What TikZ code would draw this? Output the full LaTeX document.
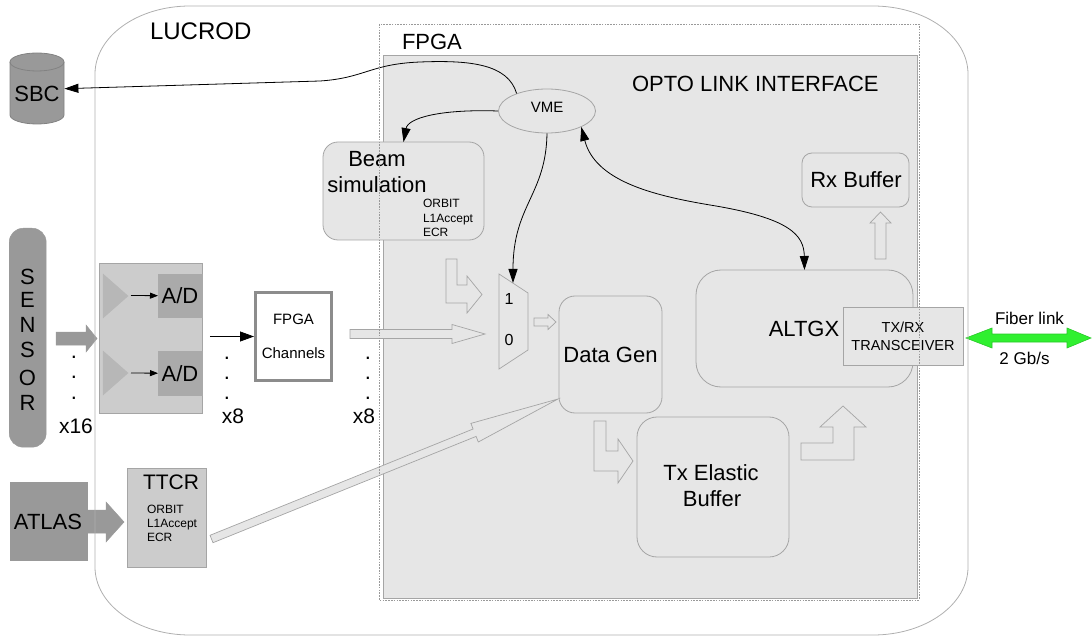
\documentclass[tikz,border=0pt]{standalone}
\usepackage{fontspec}
\setmainfont{Liberation Sans}
\usetikzlibrary{arrows.meta,shapes.geometric}

\definecolor{panelfill}{RGB}{230,230,230}
\definecolor{edgegray}{RGB}{165,165,165}
\definecolor{shellgray}{RGB}{175,175,175}
\definecolor{darkfill}{RGB}{153,153,153}
\definecolor{darkedge}{RGB}{130,130,130}
\definecolor{midfill}{RGB}{204,204,204}
\definecolor{adfill}{RGB}{170,170,170}
\definecolor{ampfill}{RGB}{183,183,183}
\definecolor{chanedge}{RGB}{140,140,140}
\definecolor{fibergreen}{RGB}{48,240,48}
\definecolor{fiberedge}{RGB}{40,200,40}

\tikzset{
  hugetxt/.style={font=\fontsize{24}{28}\selectfont},
  bigtxt/.style={font=\fontsize{22}{26}\selectfont},
  medtxt/.style={font=\fontsize{15}{18}\selectfont},
  fibertxt/.style={font=\fontsize{17}{20}\selectfont},
  smalltxt/.style={font=\fontsize{12}{14}\selectfont},
  lbl/.style={inner sep=0pt, outer sep=0pt, anchor=base},
  lblw/.style={inner sep=0pt, outer sep=0pt, anchor=base west},
  blockbox/.style={draw=edgegray, fill=panelfill, line width=0.8pt, inner sep=0pt, outer sep=0pt, anchor=north west},
  roundbox/.style={blockbox, rounded corners=#1},
  conn/.style={line width=0.8pt, -{Triangle[length=14pt,width=9pt]}},
  smallconn/.style={line width=0.8pt, -{Triangle[length=8pt,width=6pt]}},
  hollow/.style={draw=edgegray, fill=panelfill, line width=0.7pt, line join=miter},
  greyarrow/.style={draw=darkfill, fill=darkfill, line width=0.5pt},
  fpgadash/.style={draw=darkfill, line width=0.6pt, dash pattern=on 1.6pt off 1.2pt},
}

\begin{document}
\begin{tikzpicture}[x=1pt,y=-1pt]
\useasboundingbox (0,0) rectangle (1092,636);

% ---------- FPGA core panel ----------
\node[blockbox, line width=1pt, minimum width=534, minimum height=542] (opto) at (383,56) {};
\node[bigtxt, lblw] (fpgalabel) at (402,50) {FPGA};
\node[bigtxt, lblw] (optolabel) at (632,92) {OPTO LINK INTERFACE};
\node[hugetxt, lblw] (lucrodlabel) at (150,40) {LUCROD};

% VME interface
\node[draw=edgegray, fill=panelfill, ellipse, minimum width=97, minimum height=44, inner sep=0pt, line width=0.8pt] (vme) at (547,111) {};
\node[medtxt, lbl] (vmetxt) at (547,113) {VME};

% beam simulation
\node[roundbox=15, minimum width=161, minimum height=98] (beam) at (323,142) {};
\node[bigtxt, lbl] (beamtxt1) at (377,167) {Beam};
\node[bigtxt, lbl] (beamtxt2) at (377,193) {simulation};
\node[smalltxt, lblw] (beamsig1) at (423,208) {ORBIT};
\node[smalltxt, lblw] (beamsig2) at (423,223) {L1Accept};
\node[smalltxt, lblw] (beamsig3) at (423,237) {ECR};

% multiplexer
\draw[hollow] (499,274) -- (528,293) -- (528,350) -- (499,369) -- cycle;
\coordinate (muxin) at (513,283);
\node[font=\fontsize{16}{18}\selectfont, lbl] (muxone) at (509,304.5) {1};
\node[font=\fontsize{16}{18}\selectfont, lbl] (muxzero) at (509,345.5) {0};

% data path blocks
\node[roundbox=16, minimum width=103, minimum height=117] (datagen) at (559,296) {};
\node[bigtxt, lbl] (datagentxt) at (610.5,362) {Data Gen};

\node[roundbox=20, minimum width=152, minimum height=140] (txbuf) at (637,417) {};
\node[bigtxt, lbl] (txbuftxt1) at (711,480) {Tx Elastic};
\node[bigtxt, lbl] (txbuftxt2) at (712,506) {Buffer};

\node[roundbox=10, minimum width=107, minimum height=54] (rxbuf) at (802,153) {};
\node[bigtxt, lbl] (rxbuftxt) at (856,188) {Rx Buffer};

\node[roundbox=25, minimum width=217, minimum height=117] (altgx) at (696,270) {};
\node[bigtxt, lbl] (altgxtxt) at (804,336) {ALTGX};

\node[blockbox, minimum width=120, minimum height=58] (trx) at (843,307) {};
\node[font=\fontsize{14.5}{17}\selectfont, lbl] (trxtxt1) at (903,332) {TX/RX};
\node[font=\fontsize{14.5}{17}\selectfont, lbl] (trxtxt2) at (903,350) {TRANSCEIVER};

% fiber link
\draw[draw=fiberedge, fill=fibergreen, line width=0.6pt, line join=miter]
  (966,338) -- (992,328) -- (992,334) -- (1067,334) -- (1067,328) -- (1091,338)
  -- (1067,348) -- (1067,342) -- (992,342) -- (992,348) -- cycle;
\node[fibertxt, lbl] (fibertxt) at (1029.5,324) {Fiber link};
\node[fibertxt, lbl] (ratetxt) at (1024.5,364) {2 Gb/s};

% hollow data-flow arrows
\draw[hollow] (350,329.5) -- (452,329.5) -- (452,324.5) -- (485,334) -- (452,343.5) -- (452,338.5) -- (350,338.5) -- cycle;
\draw[hollow] (446,259) -- (457,259) -- (457,285) -- (467,285) -- (467,276) -- (482,294.5) -- (467,313) -- (467,303) -- (446,303) -- cycle;
\draw[hollow] (534,318) -- (548,318) -- (548,314.5) -- (556,322) -- (548,329.5) -- (548,326) -- (534,326) -- cycle;
\draw[hollow] (594,421) -- (606,421) -- (606,451) -- (618,451) -- (618,439) -- (633,461) -- (618,483) -- (618,471) -- (594,471) -- cycle;
\draw[hollow] (801,443) -- (833,443) -- (833,427) -- (820,427) -- (843,406) -- (866,427) -- (854,427) -- (854,460) -- (801,460) -- cycle;
\draw[hollow] (875,259) -- (875,223) -- (870,223) -- (880.5,212) -- (891,223) -- (886,223) -- (886,259) -- cycle;
\draw[hollow] (210.0,535.3) -- (473.1,429.0) -- (470.9,423.4) -- (558,399) -- (478.3,442.0) -- (476.1,436.4) -- (213.0,542.7) -- cycle;

% ---------- front end ----------
\node[draw=darkfill, fill=darkfill, rounded corners=14, minimum width=37, minimum height=219, inner sep=0pt, anchor=north west] (sensor) at (9,228) {};
\node[bigtxt, lbl] (sens1) at (27.5,285) {S};
\node[bigtxt, lbl] (sens2) at (27.5,308) {E};
\node[bigtxt, lbl] (sens3) at (27.5,332) {N};
\node[bigtxt, lbl] (sens4) at (27.5,357) {S};
\node[bigtxt, lbl] (sens5) at (27.5,385) {O};
\node[bigtxt, lbl] (sens6) at (27.5,410) {R};

\draw[greyarrow] (56,332) -- (86,332) -- (86,325) -- (97,338.5) -- (86,352) -- (86,345) -- (56,345) -- cycle;
\node[bigtxt, lbl] (sdot1) at (74,358) {.};
\node[bigtxt, lbl] (sdot2) at (74,378) {.};
\node[bigtxt, lbl] (sdot3) at (74,399) {.};
\node[font=\fontsize{21}{24}\selectfont, lbl] (sensmult) at (76,433) {x16};

\node[draw=edgegray, fill=midfill, line width=0.8pt, inner sep=0pt, anchor=north west, minimum width=103, minimum height=150] (adblock) at (99,263) {};
\node[draw=adfill, fill=adfill, inner sep=0pt, anchor=north west, minimum width=44, minimum height=43] (adone) at (158,274) {};
\node[draw=adfill, fill=adfill, inner sep=0pt, anchor=north west, minimum width=44, minimum height=44] (adtwo) at (158,351) {};
\draw[draw=ampfill, fill=ampfill] (103,274) -- (128,296) -- (103,318) -- cycle;
\draw[draw=ampfill, fill=ampfill] (103,351) -- (128,373) -- (103,395) -- cycle;
\coordinate (ampone) at (131,295.5);
\coordinate (amptwo) at (131,373);
\draw[smallconn] (ampone) -- (adone.west);
\draw[smallconn] (amptwo) -- (adtwo.west);
\node[bigtxt, lbl] (adonetxt) at (180,304) {A/D};
\node[bigtxt, lbl] (adtwotxt) at (180,381) {A/D};

\node[draw=chanedge, fill=white, line width=3pt, inner sep=0pt, minimum width=76, minimum height=88] (fpgach) at (293.5,336.5) {};
\node[medtxt, lbl] (fpgachtxt1) at (293.5,324) {FPGA};
\node[medtxt, lbl] (fpgachtxt2) at (293.5,358) {Channels};
\draw[line width=0.8pt, -{Triangle[length=14pt,width=10pt]}, shorten <=7pt] (adblock.east |- fpgach.west) -- (fpgach.west);

\node[bigtxt, lbl] (adot1) at (227,359) {.};
\node[bigtxt, lbl] (adot2) at (227,379) {.};
\node[bigtxt, lbl] (adot3) at (227,399) {.};
\node[font=\fontsize{21}{24}\selectfont, lbl] (admult) at (233,423) {x8};
\node[bigtxt, lbl] (cdot1) at (368,359) {.};
\node[bigtxt, lbl] (cdot2) at (368,379) {.};
\node[bigtxt, lbl] (cdot3) at (368,399) {.};
\node[font=\fontsize{21}{24}\selectfont, lbl] (chmult) at (364,423) {x8};

% timing input
\node[draw=darkfill, fill=darkfill, inner sep=0pt, anchor=north west, minimum width=77, minimum height=78] (atlas) at (10,482) {};
\node[bigtxt, lbl] (atlastxt) at (48,529) {ATLAS};
\draw[greyarrow] (87,510) -- (106,510) -- (106,502) -- (124,522) -- (106,542) -- (106,533) -- (87,533) -- cycle;
\node[draw=edgegray, fill=midfill, line width=0.8pt, inner sep=0pt, anchor=north west, minimum width=79, minimum height=99] (ttcr) at (127,468) {};
\node[font=\fontsize{21}{24}\selectfont, lbl] (ttcrtxt) at (171,489) {TTCR};
\node[smalltxt, lblw] (ttcrsig1) at (147,513) {ORBIT};
\node[smalltxt, lblw] (ttcrsig2) at (147,527) {L1Accept};
\node[smalltxt, lblw] (ttcrsig3) at (147,541.5) {ECR};

% single board computer
\node[inner sep=0pt, anchor=north west, minimum width=54, minimum height=71] (sbc) at (10,53) {};
\draw[draw=darkedge, fill=darkfill, line width=0.8pt]
  (10,62) -- (10,115) .. controls (10,120) and (22.1,124) .. (37,124)
  .. controls (51.9,124) and (64,120) .. (64,115) -- (64,62)
  .. controls (64,57) and (51.9,53) .. (37,53)
  .. controls (22.1,53) and (10,57) .. (10,62) -- cycle;
\draw[draw=darkedge, line width=0.8pt]
  (10,62) .. controls (10,67) and (22.1,71) .. (37,71) .. controls (51.9,71) and (64,67) .. (64,62);
\node[bigtxt, lbl] (sbctxt) at (37,102) {SBC};

% LUCROD board outline
\draw[draw=shellgray, line width=0.8pt]
  (95,74) .. controls (95,36.4) and (137.5,6) .. (190,6) -- (873,6)
  .. controls (925.5,6) and (968,36.4) .. (968,74) -- (968,567)
  .. controls (968,604.6) and (925.5,635) .. (873,635) -- (190,635)
  .. controls (137.5,635) and (95,604.6) .. (95,567) -- cycle;

% ---------- control connections ----------
\draw[conn] (vme.150) .. controls (508,64) and (470,60) .. (420,62)
  .. controls (370,64) and (365,78) .. (320,81) -- (sbc.east);
\draw[conn] (vme.west) .. controls (440,109) and (408,118) .. (beam.north);
\draw[conn] (vme.south) .. controls (546,195) and (513,205) .. (muxin);
\draw[line width=0.8pt, {Triangle[length=14pt,width=9pt]}-{Triangle[length=14pt,width=9pt]}]
  (vme.-25) .. controls (595,180) and (650,195) .. (710,205)
  .. controls (790,218) and (804,235) .. (altgx.north);

% FPGA boundary
\draw[fpgadash] (379,24) rectangle (919,600);
\end{tikzpicture}
\end{document}
